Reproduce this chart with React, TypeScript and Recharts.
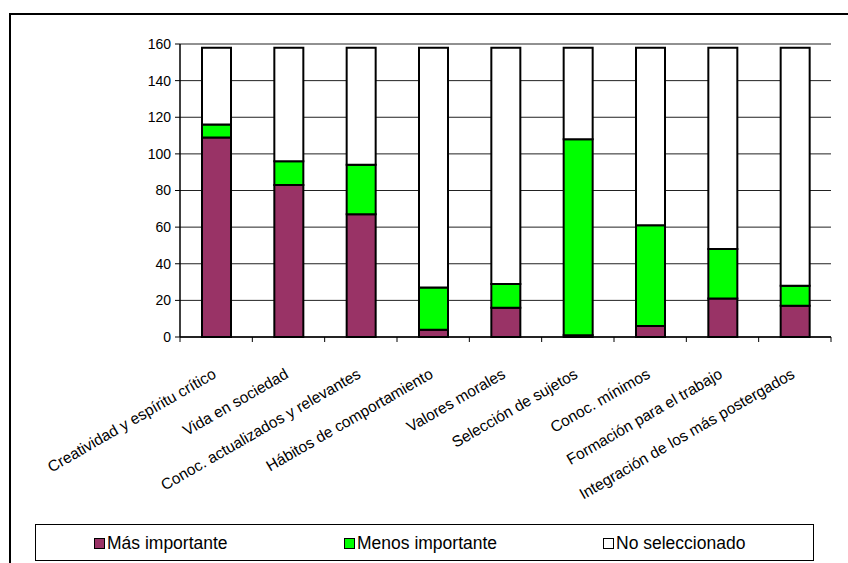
import React from 'react';
import { BarChart, Bar, XAxis, YAxis, CartesianGrid } from 'recharts';

const categories = [
  'Creatividad y espíritu crítico',
  'Vida en sociedad',
  'Conoc. actualizados y relevantes',
  'Hábitos de comportamiento',
  'Valores morales',
  'Selección de sujetos',
  'Conoc. mínimos',
  'Formación para el trabajo',
  'Integración de los más postergados',
];
const masImportante = [109, 83, 67, 4, 16, 1, 6, 21, 17];
const menosImportante = [7, 13, 27, 23, 13, 107, 55, 27, 11];
const noSeleccionado = [42, 62, 64, 131, 129, 50, 97, 110, 130];
const yTicks = [0, 20, 40, 60, 80, 100, 120, 140, 160];
const seriesNames = ['Más importante', 'Menos importante', 'No seleccionado'];
const seriesColors = ['#993366', '#00FF00', '#FFFFFF'];
const legendX = [94, 344, 603];

const data = categories.map((c, i) => ({
  name: c,
  mas: masImportante[i],
  menos: menosImportante[i],
  no: noSeleccionado[i],
}));

const FONT = '"Liberation Sans", Arial, sans-serif';
const PLOT_LEFT = 180;
const PLOT_RIGHT = 831;
const BAND = (PLOT_RIGHT - PLOT_LEFT) / categories.length;

const XTick = (props: any) => {
  const { x, y, payload, index } = props;
  const ay = y;
  const lines = [
    <line key="l" x1={x - BAND / 2} x2={x - BAND / 2} y1={ay} y2={ay + 5} stroke="#000" strokeWidth={1} />,
  ];
  if (index === categories.length - 1) {
    lines.push(
      <line key="r" x1={x + BAND / 2} x2={x + BAND / 2} y1={ay} y2={ay + 5} stroke="#000" strokeWidth={1} />
    );
  }
  const ty = ay + 40;
  return (
    <g>
      {lines}
      <text
        x={x + 1}
        y={ty}
        textAnchor="end"
        fontFamily={FONT}
        fontSize={15.5}
        fill="#000"
        transform={`rotate(-30, ${x + 1}, ${ty})`}
      >
        {payload.value}
      </text>
    </g>
  );
};

export default function App() {
  return (
    <div style={{ position: 'fixed', left: 0, top: 0, width: 848, height: 563, overflow: 'hidden', background: '#fff' }}>
      <div
        style={{
          position: 'absolute',
          left: 9,
          top: 13,
          width: 1000,
          height: 1000,
          borderTop: '2px solid #000',
          borderLeft: '2px solid #000',
        }}
      />
      <div style={{ position: 'absolute', left: 0, top: 0 }}>
        <BarChart
          width={848}
          height={563}
          data={data}
          margin={{ top: 44, right: 848 - PLOT_RIGHT, left: 0, bottom: 0 }}
          barSize={29}
        >
          <CartesianGrid vertical={false} stroke="#222" strokeWidth={1} />
          <XAxis
            dataKey="name"
            interval={0}
            height={226}
            tickSize={0}
            tickMargin={0}
            tickLine={false}
            axisLine={{ stroke: '#000', strokeWidth: 1.5 }}
            tick={<XTick />}
          />
          <YAxis
            width={PLOT_LEFT}
            domain={[0, 160]}
            ticks={yTicks}
            interval={0}
            tickSize={5}
            tickMargin={4}
            axisLine={{ stroke: '#000', strokeWidth: 1.5 }}
            tickLine={{ stroke: '#000' }}
            tick={{ fontFamily: FONT, fontSize: 14, fill: '#000' }}
          />
          <Bar dataKey="mas" name={seriesNames[0]} stackId="a" fill={seriesColors[0]} stroke="#000" strokeWidth={2} isAnimationActive={false} />
          <Bar dataKey="menos" name={seriesNames[1]} stackId="a" fill={seriesColors[1]} stroke="#000" strokeWidth={2} isAnimationActive={false} />
          <Bar dataKey="no" name={seriesNames[2]} stackId="a" fill={seriesColors[2]} stroke="#000" strokeWidth={2} isAnimationActive={false} />
        </BarChart>
      </div>
      <div
        style={{
          position: 'absolute',
          left: 35,
          top: 524,
          width: 779,
          height: 37,
          border: '1px solid #000',
          boxSizing: 'border-box',
        }}
      />
      {seriesNames.map((n, i) => (
        <div
          key={n}
          style={{
            position: 'absolute',
            left: legendX[i],
            top: 534,
            height: 18,
            display: 'flex',
            alignItems: 'center',
            fontFamily: FONT,
            fontSize: 17.5,
            color: '#000',
            whiteSpace: 'nowrap',
          }}
        >
          <span
            style={{
              display: 'inline-block',
              width: 9,
              height: 9,
              background: seriesColors[i],
              border: '1.5px solid #000',
              marginRight: 2,
            }}
          />
          {n}
        </div>
      ))}
    </div>
  );
}
